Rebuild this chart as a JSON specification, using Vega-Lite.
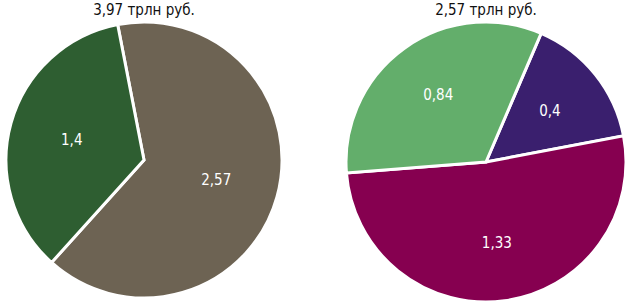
{
  "$schema": "https://vega.github.io/schema/vega-lite/v6.json",
  "padding": {"top": 3, "left": 0, "right": 0, "bottom": 0},
  "spacing": 52,
  "background": "white",
  "resolve": {"scale": {"color": "independent", "theta": "independent"}},
  "config": {"view": {"stroke": null}, "font": "'Liberation Sans Narrow', 'DejaVu Sans Condensed', Roboto, sans-serif"},
  "hconcat": [
    {
      "title": {"text": "3,97 трлн руб.", "fontSize": 15, "fontWeight": "normal", "font": "'Liberation Sans Narrow', 'DejaVu Sans Condensed', Roboto, sans-serif", "color": "#111", "offset": -2},
      "width": 276,
      "height": 276,
      "data": {"values": [
        {"part": "a", "value": 2.57, "label": "2,57"},
        {"part": "b", "value": 1.4, "label": "1,4"}
      ]},
      "encoding": {
        "theta": {"field": "value", "type": "quantitative", "stack": true, "scale": {"range": [-0.192, 6.091]}},
        "order": {"field": "part", "type": "nominal"}
      },
      "layer": [
        {
          "mark": {"type": "arc", "stroke": "white", "strokeWidth": 3},
          "encoding": {
            "color": {"field": "part", "type": "nominal", "legend": null, "scale": {"domain": ["a", "b"], "range": ["#6d6353", "#2e5e31"]}}
          }
        },
        {
          "mark": {"type": "text", "radius": 75, "fontSize": 15, "color": "white", "font": "'Liberation Sans Narrow', 'DejaVu Sans Condensed', Roboto, sans-serif"},
          "encoding": {"text": {"field": "label", "type": "nominal"}}
        }
      ]
    },
    {
      "title": {"text": "2,57 трлн руб.", "fontSize": 15, "fontWeight": "normal", "font": "'Liberation Sans Narrow', 'DejaVu Sans Condensed', Roboto, sans-serif", "color": "#111", "offset": -2},
      "width": 282,
      "height": 280,
      "data": {"values": [
        {"sect": "a", "value": 0.4, "label": "0,4"},
        {"sect": "b", "value": 1.33, "label": "1,33"},
        {"sect": "c", "value": 0.84, "label": "0,84"}
      ]},
      "encoding": {
        "theta": {"field": "value", "type": "quantitative", "stack": true, "scale": {"range": [0.405, 6.688]}},
        "order": {"field": "sect", "type": "nominal"}
      },
      "layer": [
        {
          "mark": {"type": "arc", "stroke": "white", "strokeWidth": 3},
          "encoding": {
            "color": {"field": "sect", "type": "nominal", "legend": null, "scale": {"domain": ["a", "b", "c"], "range": ["#3a1f6e", "#860050", "#63ae6b"]}}
          }
        },
        {
          "mark": {"type": "text", "radius": 82, "fontSize": 15, "color": "white", "font": "'Liberation Sans Narrow', 'DejaVu Sans Condensed', Roboto, sans-serif"},
          "encoding": {"text": {"field": "label", "type": "nominal"}}
        }
      ]
    }
  ]
}
